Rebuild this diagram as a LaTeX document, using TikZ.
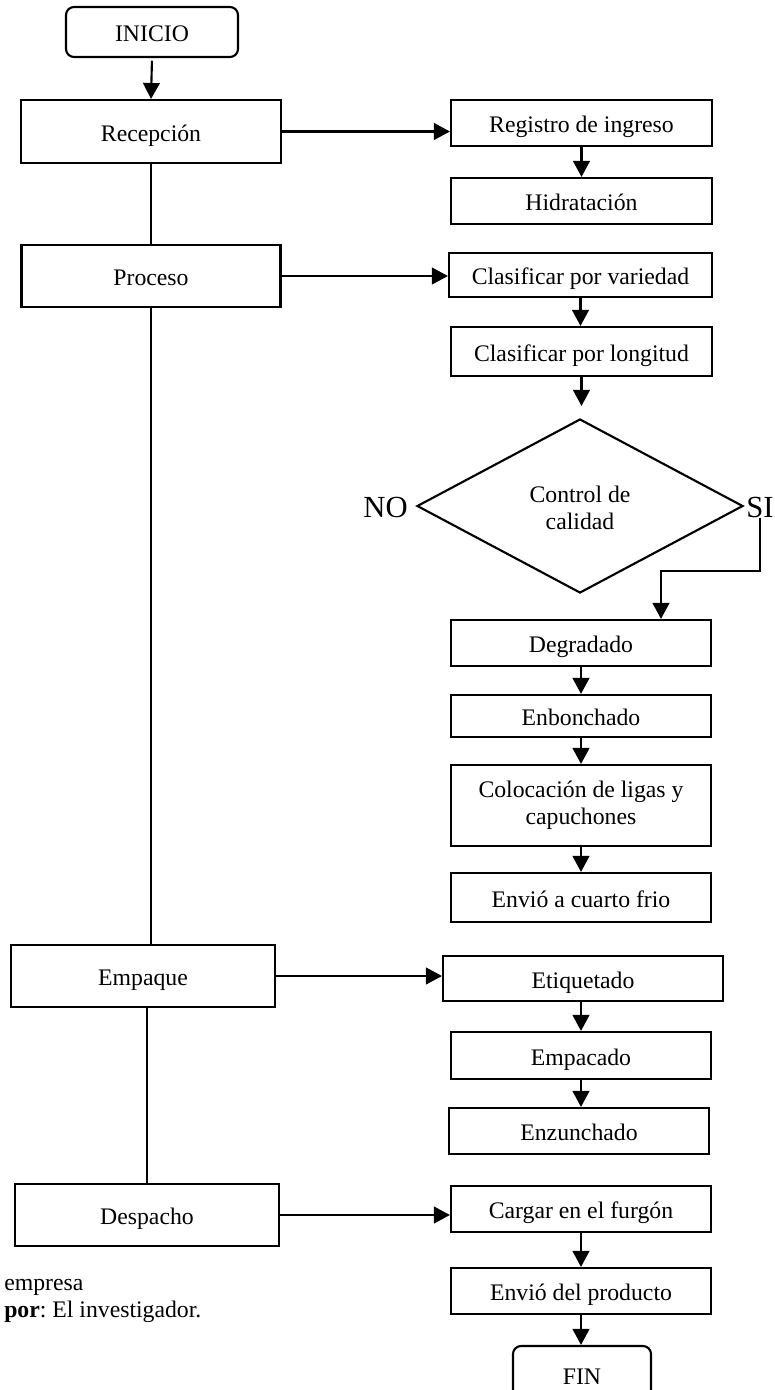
\documentclass[tikz,border=0pt]{standalone}
\usepackage{fontspec}
\setmainfont{Liberation Serif}
\usetikzlibrary{arrows.meta,shapes.geometric}
\begin{document}
\frenchspacing
\def\u{0.75pt}
\begin{tikzpicture}[x=0.75pt,y=-0.75pt,
  every node/.style={font=\fontsize{17.8}{20.3}\selectfont, inner sep=0pt, align=center},
  boxm/.style={draw, line width=1.6pt, minimum width=260*\u, minimum height=46*\u},
  box/.style={boxm, text height=15pt, text depth=0.2pt},
  term/.style={box, rounded corners=8*\u, minimum width=172*\u, minimum height=50*\u},
  decision/.style={draw, line width=1.6pt, diamond, aspect=1.874, minimum width=326*\u, minimum height=174*\u},
  tag/.style={font=\fontsize{23}{26}\selectfont},
  link/.style={line width=1.6pt},
  flow/.style={link, -{Triangle[length=12pt,width=12.5pt]}}]
\useasboundingbox (0,0) rectangle (775,1390);

% main stages (left column)
\node[term] (inicio) at (152,32) {INICIO};
\node[box, minimum height=63*\u] (recep) at (151,131.5) {Recepción};
\node[box, minimum width=259*\u, minimum height=62*\u] (proc) at (151,276) {Proceso};
\node[box, minimum width=264*\u, minimum height=62*\u] (empq) at (143,976) {Empaque};
\node[box, minimum width=264*\u, minimum height=62*\u] (desp) at (147,1215) {Despacho};

% detailed steps (right column)
\node[box, minimum width=261*\u] (reg) at (581.5,123) {Registro de ingreso};
\node[box, minimum width=261*\u] (hid) at (581.5,201) {Hidratación};
\node[box, minimum width=263*\u, minimum height=44*\u] (cvar) at (580.5,275) {Clasificar por variedad};
\node[box, minimum width=261*\u, minimum height=49*\u] (clon) at (581.5,351.5) {Clasificar por longitud};
\node[decision] (dia) at (580,506) {};
\node at (580,508) {Control de\\calidad};
\node[tag, anchor=east] (no) at (408,507) {NO};
\node[tag, anchor=west] (si) at (746,507) {SI};
\node[box] (deg) at (581,643) {Degradado};
\node[box, minimum height=42*\u] (enb) at (581,716) {Enbonchado};
\node[boxm, minimum height=81*\u] (col) at (581,805.5) {\raisebox{-2.2pt}{\parbox{180pt}{\centering Colocación de ligas y\\capuchones}}};
\node[box, minimum height=49*\u] (env) at (581,897.5) {Envió a cuarto frio};
\node[box, minimum width=280*\u, minimum height=45*\u] (etiq) at (583,978.5) {Etiquetado};
\node[box, minimum height=47*\u] (empc) at (581,1055.5) {Empacado};
\node[box] (enz) at (579,1131) {Enzunchado};
\node[box] (carg) at (581,1209) {Cargar en el furgón};
\node[box] (envp) at (581,1291) {Envió del producto};
\node[term, minimum width=138*\u, minimum height=58*\u] (fin) at (582,1375) {FIN};

% source note
\node[anchor=west, align=left] (nota) at (4,1301) {empresa\\\textbf{por}: El investigador.};

% spine of the main stages
\draw[flow, shorten <=2pt] (inicio.south) -- (recep.north);
\draw[link] (recep.south) -- (proc.north);
\draw[link] (proc.south) -- (proc.south |- empq.north);
\draw[link] (desp.north |- empq.south) -- (desp.north);

% branches to the detailed steps
\draw[flow] (recep.east) -- (recep.east -| reg.west);
\draw[flow] (proc.east) -- (proc.east -| cvar.west);
\draw[flow] (empq.east) -- (empq.east -| etiq.west);
\draw[flow] (desp.east) -- (desp.east -| carg.west);

% step sequences (straight drops from each box)
\draw[flow] (reg.south) -- (reg.south |- hid.north);
\draw[flow] (cvar.south) -- (cvar.south |- clon.north);
\draw[flow, shorten >=9pt] (clon.south) -- (clon.south |- dia.north);
\coordinate (sibend) at (661,571);
\draw[flow] (si.south) |- (sibend) -- (sibend |- deg.north);
\draw[flow] (deg.south) -- (deg.south |- enb.north);
\draw[flow] (enb.south) -- (enb.south |- col.north);
\draw[flow] (col.south) -- (col.south |- env.north);
\draw[flow] (empc.north |- etiq.south) -- (empc.north);
\draw[flow] (empc.south) -- (empc.south |- enz.north);
\draw[flow] (carg.south) -- (carg.south |- envp.north);
\draw[flow] (envp.south) -- (envp.south |- fin.north);
\end{tikzpicture}
\end{document}
